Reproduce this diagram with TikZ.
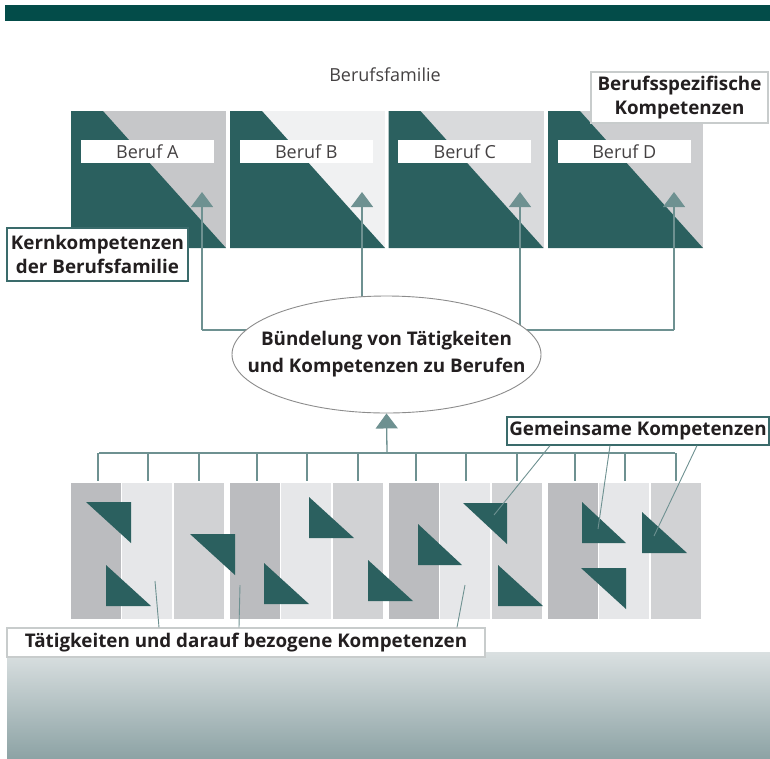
\documentclass[tikz,border=0pt]{standalone}
\usepackage{fontspec}
\setmainfont{Open Sans}
\usetikzlibrary{shapes.geometric,arrows.meta,calc}
\definecolor{band}{HTML}{034C49}
\definecolor{tealdk}{HTML}{2B605F}
\definecolor{conncol}{HTML}{6E9191}
\definecolor{ellcol}{HTML}{8C8C8C}
\definecolor{lblteal}{HTML}{3A6B6B}
\definecolor{lblgrey}{HTML}{C8CCCC}
\definecolor{txt}{HTML}{231F20}
\definecolor{sqA}{HTML}{C6C7C9}
\definecolor{sqB}{HTML}{F0F1F2}
\definecolor{sqC}{HTML}{D9DADC}
\definecolor{sqD}{HTML}{CDCED0}
\definecolor{stD}{HTML}{BBBCBF}
\definecolor{stL}{HTML}{E6E7E9}
\definecolor{stM}{HTML}{D1D2D4}
\definecolor{gradtop}{HTML}{DAE0E1}
\definecolor{gradbot}{HTML}{8DA3A5}
\tikzset{
  berufsq/.style={rectangle, draw=none, inner sep=0pt, minimum width=155pt, minimum height=137pt,
    path picture={\fill[tealdk] (path picture bounding box.north west) -- ([xshift=32pt]path picture bounding box.north west) -- (path picture bounding box.south east) -- (path picture bounding box.south west) -- cycle;}},
  berufname/.style={rectangle, fill=white, inner sep=0pt, minimum width=133pt, minimum height=23pt, text=txt!85,
    font=\fontsize{18}{20}\selectfont},
  conn/.style={draw=conncol, line width=1.3pt},
  uparrow/.style={conn, -{Triangle[width=22pt,length=15pt]}},
  leader/.style={draw=conncol, line width=0.9pt},
  tlbl/.style={rectangle, fill=white, draw=lblteal, line width=1.2pt, inner sep=0pt, text=txt, align=center,
    font=\bfseries\fontsize{18.8}{24}\selectfont},
  glbl/.style={tlbl, draw=lblgrey},
  tri/.style={fill=tealdk},
}
\begin{document}
\begin{tikzpicture}[x=1pt,y=-1pt]
\useasboundingbox (0,0) rectangle (770,758);
% top band and bottom gradient
\fill[band] (5,5) rectangle (770,21);
\shade[top color=gradtop, bottom color=gradbot] (7,652) rectangle (770,758);

\node[text=txt!85, font=\fontsize{18}{20}\selectfont] (fam) at (385,75) {Berufsfamilie};

% profession squares
\node[berufsq, fill=sqA] (A) at (148.5,179.5) {};
\node[berufsq, fill=sqB] (B) at (307.5,179.5) {};
\node[berufsq, fill=sqC] (C) at (466,179.5) {};
\node[berufsq, fill=sqD] (D) at (625.5,179.5) {};
\foreach \s/\t in {A/Beruf A,B/Beruf B,C/Beruf C,D/Beruf D}{
  \node[berufname] (n\s) at ($(\s.north west)+(76.5,40.5)$) {\t};
}

% connectors to professions
\coordinate (ta) at (202,192);
\coordinate (tb) at (362,192);
\coordinate (tc) at (520,192);
\coordinate (td) at (674,192);
\coordinate (ba) at (202,330);
\coordinate (bb) at (362,330);
\coordinate (bc) at (520,330);
\coordinate (bd) at (674,330);
\draw[conn] (ba) -- (bd);
\foreach \p in {a,b,c,d}{ \draw[uparrow] (b\p) -- (t\p); }

% ellipse
\node[ellipse, draw=ellcol, line width=0.9pt, fill=white, minimum width=309pt, minimum height=117pt, inner sep=0pt] (E) at (386.5,354.5) {};
\node[align=center, text=txt, font=\bfseries\fontsize{18.8}{27}\selectfont] (Etxt) at (E.center)
  {Bündelung von Tätigkeiten\\und Kompetenzen zu Berufen};

% lower bus
\coordinate (busc) at (387,453);
\draw[uparrow] (busc) -- (E.south);
\draw[conn] (99,453) -- (675,453);

% stripes
\foreach \g [count=\i] in {71,230,389,548}{
  \fill[stD] (\g,483) rectangle ++(50,136);
  \fill[stL] (\g+51,483) rectangle ++(50,136);
  \fill[stM] (\g+103,483) rectangle ++(50,136);
  \foreach \dx in {27,77,128}{
    \draw[conn] (\g+\dx,453) -- (\g+\dx,481);
  }
}

% triangles
\fill[tri] (86,502) -- (131,502) -- (131,543) -- cycle;
\fill[tri] (106,565) -- (106,606) -- (151,606) -- cycle;
\fill[tri] (190,534) -- (235,534) -- (235,575) -- cycle;
\fill[tri] (264,563) -- (264,604) -- (309,604) -- cycle;
\fill[tri] (309,497) -- (309,538) -- (354,538) -- cycle;
\fill[tri] (368,560) -- (368,601) -- (413,601) -- cycle;
\fill[tri] (418,524) -- (418,565) -- (462,565) -- cycle;
\fill[tri] (463,503) -- (507,503) -- (507,544) -- cycle;
\fill[tri] (498,565) -- (498,606) -- (543,606) -- cycle;
\fill[tri] (582,502) -- (582,543) -- (626,543) -- cycle;
\fill[tri] (581,568) -- (626,568) -- (626,609) -- cycle;
\fill[tri] (642,512) -- (642,553) -- (687,553) -- cycle;

% labels
\node[glbl, minimum width=177pt, minimum height=51pt] (spez) at (679.5,97.5) {Berufsspezifische\\Kompetenzen};
\node[tlbl, minimum width=181pt, minimum height=53pt] (kern) at (97.5,254.5) {Kernkompetenzen\\der Berufsfamilie};
\node[tlbl, minimum width=262pt, minimum height=28pt] (gem) at (638,431) {Gemeinsame Kompetenzen};
\node[glbl, minimum width=478pt, minimum height=29pt] (taet) at (246,642.5) {Tätigkeiten und darauf bezogene Kompetenzen};

% leaders
\coordinate (g1) at (494,515);
\coordinate (g2) at (598,529);
\coordinate (g3) at (654,536);
\draw[leader] (gem.south -| 550,0) -- (g1);
\draw[leader] (gem.south -| 610,0) -- (g2);
\draw[leader] (gem.south -| 697,0) -- (g3);
\coordinate (t1) at (155,581);
\coordinate (t2) at (240,585);
\coordinate (t3) at (465,585);
\draw[leader] (taet.north -| 159,0) -- (t1);
\draw[leader] (taet.north -| 239,0) -- (t2);
\draw[leader] (taet.north -| 457,0) -- (t3);
\end{tikzpicture}
\end{document}
